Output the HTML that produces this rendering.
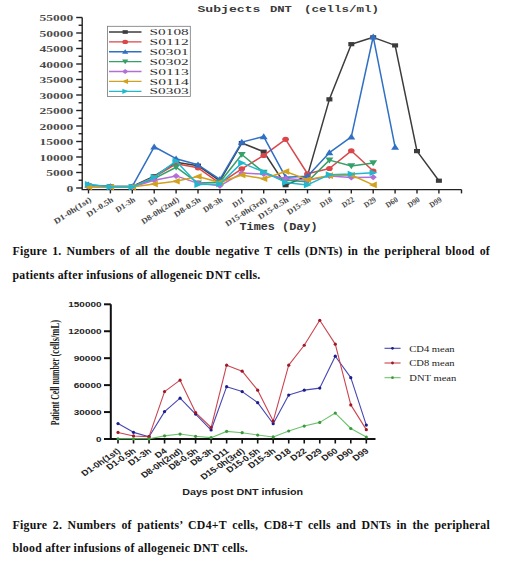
<!DOCTYPE html>
<html><head><meta charset="utf-8"><style>
html,body{margin:0;padding:0;background:#fff;}
body{width:520px;height:566px;position:relative;overflow:hidden;}
svg{position:absolute;left:0;top:0;}
.cap{position:absolute;left:12.5px;width:477.5px;font-family:"Liberation Serif",serif;font-weight:bold;font-size:11.8px;letter-spacing:0.25px;color:#111;text-align:justify;line-height:23.6px;margin:0;}
.l1{text-align-last:justify;}
</style></head><body>
<svg width="520" height="566" viewBox="0 0 520 566">
<g stroke="#222" stroke-width="1.4" fill="none">
<path d="M82.2,17.5 V189.6 H461.5"/>
<path d="M76.2,188.00 H82.2"/>
<path d="M76.2,172.50 H82.2"/>
<path d="M76.2,157.00 H82.2"/>
<path d="M76.2,141.50 H82.2"/>
<path d="M76.2,126.00 H82.2"/>
<path d="M76.2,110.50 H82.2"/>
<path d="M76.2,95.00 H82.2"/>
<path d="M76.2,79.50 H82.2"/>
<path d="M76.2,64.00 H82.2"/>
<path d="M76.2,48.50 H82.2"/>
<path d="M76.2,33.00 H82.2"/>
<path d="M76.2,17.50 H82.2"/>
<path d="M78.6,180.25 H82.2"/>
<path d="M78.6,164.75 H82.2"/>
<path d="M78.6,149.25 H82.2"/>
<path d="M78.6,133.75 H82.2"/>
<path d="M78.6,118.25 H82.2"/>
<path d="M78.6,102.75 H82.2"/>
<path d="M78.6,87.25 H82.2"/>
<path d="M78.6,71.75 H82.2"/>
<path d="M78.6,56.25 H82.2"/>
<path d="M78.6,40.75 H82.2"/>
<path d="M78.6,25.25 H82.2"/>
<path d="M88.50,189.6 V193.4"/>
<path d="M110.40,189.6 V193.4"/>
<path d="M132.30,189.6 V193.4"/>
<path d="M154.20,189.6 V193.4"/>
<path d="M176.10,189.6 V193.4"/>
<path d="M198.00,189.6 V193.4"/>
<path d="M219.90,189.6 V193.4"/>
<path d="M241.80,189.6 V193.4"/>
<path d="M263.70,189.6 V193.4"/>
<path d="M285.60,189.6 V193.4"/>
<path d="M307.50,189.6 V193.4"/>
<path d="M329.40,189.6 V193.4"/>
<path d="M351.30,189.6 V193.4"/>
<path d="M373.20,189.6 V193.4"/>
<path d="M395.10,189.6 V193.4"/>
<path d="M417.00,189.6 V193.4"/>
<path d="M438.90,189.6 V193.4"/>
<path d="M461.5,189.6 V193.4"/>
</g>
<g font-family="Liberation Serif, serif" font-weight="bold" font-size="7.6" fill="#4a4a4a" text-anchor="end">
<text x="73.2" y="191.60" textLength="6.8" lengthAdjust="spacingAndGlyphs">0</text>
<text x="73.2" y="176.10" textLength="27.0" lengthAdjust="spacingAndGlyphs">5000</text>
<text x="73.2" y="160.60" textLength="33.8" lengthAdjust="spacingAndGlyphs">10000</text>
<text x="73.2" y="145.10" textLength="33.8" lengthAdjust="spacingAndGlyphs">15000</text>
<text x="73.2" y="129.60" textLength="33.8" lengthAdjust="spacingAndGlyphs">20000</text>
<text x="73.2" y="114.10" textLength="33.8" lengthAdjust="spacingAndGlyphs">25000</text>
<text x="73.2" y="98.60" textLength="33.8" lengthAdjust="spacingAndGlyphs">30000</text>
<text x="73.2" y="83.10" textLength="33.8" lengthAdjust="spacingAndGlyphs">35000</text>
<text x="73.2" y="67.60" textLength="33.8" lengthAdjust="spacingAndGlyphs">40000</text>
<text x="73.2" y="52.10" textLength="33.8" lengthAdjust="spacingAndGlyphs">45000</text>
<text x="73.2" y="36.60" textLength="33.8" lengthAdjust="spacingAndGlyphs">50000</text>
<text x="73.2" y="21.10" textLength="33.8" lengthAdjust="spacingAndGlyphs">55000</text>
</g>
<g font-family="Liberation Mono, monospace" font-weight="bold" font-size="9.6" fill="#3a3a3a">
<text x="197.4" y="11.9" textLength="63" lengthAdjust="spacingAndGlyphs">Subjects</text>
<text x="269.9" y="11.9" textLength="22" lengthAdjust="spacingAndGlyphs">DNT</text>
<text x="304" y="11.9" textLength="75" lengthAdjust="spacingAndGlyphs">(cells/ml)</text>
</g>
<polyline fill="none" stroke="#3c3c3c" stroke-width="1.5" stroke-linejoin="round" points="88.50,185.52 110.40,186.45 132.30,186.45 154.20,176.22 176.10,162.27 198.00,165.68 219.90,180.87 241.80,143.05 263.70,151.73 285.60,185.21 307.50,175.60 329.40,99.34 351.30,44.16 373.20,37.34 395.10,45.40 417.00,151.11 438.90,180.72"/>
<rect x="85.50" y="183.42" width="6.00" height="4.20" fill="#3c3c3c"/>
<rect x="107.40" y="184.35" width="6.00" height="4.20" fill="#3c3c3c"/>
<rect x="129.30" y="184.35" width="6.00" height="4.20" fill="#3c3c3c"/>
<rect x="151.20" y="174.12" width="6.00" height="4.20" fill="#3c3c3c"/>
<rect x="173.10" y="160.17" width="6.00" height="4.20" fill="#3c3c3c"/>
<rect x="195.00" y="163.58" width="6.00" height="4.20" fill="#3c3c3c"/>
<rect x="216.90" y="178.77" width="6.00" height="4.20" fill="#3c3c3c"/>
<rect x="238.80" y="140.95" width="6.00" height="4.20" fill="#3c3c3c"/>
<rect x="260.70" y="149.63" width="6.00" height="4.20" fill="#3c3c3c"/>
<rect x="282.60" y="183.11" width="6.00" height="4.20" fill="#3c3c3c"/>
<rect x="304.50" y="173.50" width="6.00" height="4.20" fill="#3c3c3c"/>
<rect x="326.40" y="97.24" width="6.00" height="4.20" fill="#3c3c3c"/>
<rect x="348.30" y="42.06" width="6.00" height="4.20" fill="#3c3c3c"/>
<rect x="370.20" y="35.24" width="6.00" height="4.20" fill="#3c3c3c"/>
<rect x="392.10" y="43.30" width="6.00" height="4.20" fill="#3c3c3c"/>
<rect x="414.00" y="149.01" width="6.00" height="4.20" fill="#3c3c3c"/>
<rect x="435.90" y="178.62" width="6.00" height="4.20" fill="#3c3c3c"/>
<polyline fill="none" stroke="#d9474a" stroke-width="1.5" stroke-linejoin="round" points="88.50,186.14 110.40,186.76 132.30,186.76 154.20,177.15 176.10,163.82 198.00,167.85 219.90,183.35 241.80,168.78 263.70,155.45 285.60,139.33 307.50,173.74 329.40,168.47 351.30,150.80 373.20,170.95"/>
<ellipse cx="88.50" cy="186.14" rx="3.30" ry="2.55" fill="#d9474a"/>
<ellipse cx="110.40" cy="186.76" rx="3.30" ry="2.55" fill="#d9474a"/>
<ellipse cx="132.30" cy="186.76" rx="3.30" ry="2.55" fill="#d9474a"/>
<ellipse cx="154.20" cy="177.15" rx="3.30" ry="2.55" fill="#d9474a"/>
<ellipse cx="176.10" cy="163.82" rx="3.30" ry="2.55" fill="#d9474a"/>
<ellipse cx="198.00" cy="167.85" rx="3.30" ry="2.55" fill="#d9474a"/>
<ellipse cx="219.90" cy="183.35" rx="3.30" ry="2.55" fill="#d9474a"/>
<ellipse cx="241.80" cy="168.78" rx="3.30" ry="2.55" fill="#d9474a"/>
<ellipse cx="263.70" cy="155.45" rx="3.30" ry="2.55" fill="#d9474a"/>
<ellipse cx="285.60" cy="139.33" rx="3.30" ry="2.55" fill="#d9474a"/>
<ellipse cx="307.50" cy="173.74" rx="3.30" ry="2.55" fill="#d9474a"/>
<ellipse cx="329.40" cy="168.47" rx="3.30" ry="2.55" fill="#d9474a"/>
<ellipse cx="351.30" cy="150.80" rx="3.30" ry="2.55" fill="#d9474a"/>
<ellipse cx="373.20" cy="170.95" rx="3.30" ry="2.55" fill="#d9474a"/>
<polyline fill="none" stroke="#2f6fc4" stroke-width="1.5" stroke-linejoin="round" points="88.50,184.90 110.40,186.45 132.30,186.45 154.20,146.77 176.10,158.70 198.00,164.75 219.90,179.32 241.80,142.12 263.70,136.54 285.60,177.15 307.50,176.22 329.40,152.66 351.30,136.85 373.20,36.72 395.10,147.08"/>
<polygon points="84.54,187.54 88.50,181.60 92.46,187.54" fill="#2f6fc4"/>
<polygon points="106.44,189.09 110.40,183.15 114.36,189.09" fill="#2f6fc4"/>
<polygon points="128.34,189.09 132.30,183.15 136.26,189.09" fill="#2f6fc4"/>
<polygon points="150.24,149.41 154.20,143.47 158.16,149.41" fill="#2f6fc4"/>
<polygon points="172.14,161.34 176.10,155.40 180.06,161.34" fill="#2f6fc4"/>
<polygon points="194.04,167.39 198.00,161.45 201.96,167.39" fill="#2f6fc4"/>
<polygon points="215.94,181.96 219.90,176.02 223.86,181.96" fill="#2f6fc4"/>
<polygon points="237.84,144.76 241.80,138.82 245.76,144.76" fill="#2f6fc4"/>
<polygon points="259.74,139.18 263.70,133.24 267.66,139.18" fill="#2f6fc4"/>
<polygon points="281.64,179.79 285.60,173.85 289.56,179.79" fill="#2f6fc4"/>
<polygon points="303.54,178.86 307.50,172.92 311.46,178.86" fill="#2f6fc4"/>
<polygon points="325.44,155.30 329.40,149.36 333.36,155.30" fill="#2f6fc4"/>
<polygon points="347.34,139.49 351.30,133.55 355.26,139.49" fill="#2f6fc4"/>
<polygon points="369.24,39.36 373.20,33.42 377.16,39.36" fill="#2f6fc4"/>
<polygon points="391.14,149.72 395.10,143.78 399.06,149.72" fill="#2f6fc4"/>
<polyline fill="none" stroke="#35a06a" stroke-width="1.5" stroke-linejoin="round" points="88.50,186.45 110.40,187.07 132.30,187.07 154.20,178.70 176.10,167.23 198.00,183.04 219.90,182.26 241.80,154.52 263.70,172.50 285.60,180.25 307.50,181.80 329.40,160.10 351.30,165.99 373.20,162.89"/>
<polygon points="84.54,183.81 88.50,189.75 92.46,183.81" fill="#35a06a"/>
<polygon points="106.44,184.43 110.40,190.37 114.36,184.43" fill="#35a06a"/>
<polygon points="128.34,184.43 132.30,190.37 136.26,184.43" fill="#35a06a"/>
<polygon points="150.24,176.06 154.20,182.00 158.16,176.06" fill="#35a06a"/>
<polygon points="172.14,164.59 176.10,170.53 180.06,164.59" fill="#35a06a"/>
<polygon points="194.04,180.40 198.00,186.34 201.96,180.40" fill="#35a06a"/>
<polygon points="215.94,179.62 219.90,185.56 223.86,179.62" fill="#35a06a"/>
<polygon points="237.84,151.88 241.80,157.82 245.76,151.88" fill="#35a06a"/>
<polygon points="259.74,169.86 263.70,175.80 267.66,169.86" fill="#35a06a"/>
<polygon points="281.64,177.61 285.60,183.55 289.56,177.61" fill="#35a06a"/>
<polygon points="303.54,179.16 307.50,185.10 311.46,179.16" fill="#35a06a"/>
<polygon points="325.44,157.46 329.40,163.40 333.36,157.46" fill="#35a06a"/>
<polygon points="347.34,163.35 351.30,169.29 355.26,163.35" fill="#35a06a"/>
<polygon points="369.24,160.25 373.20,166.19 377.16,160.25" fill="#35a06a"/>
<polyline fill="none" stroke="#b070d8" stroke-width="1.5" stroke-linejoin="round" points="88.50,186.45 110.40,187.07 132.30,187.07 154.20,180.25 176.10,175.91 198.00,183.35 219.90,185.83 241.80,173.12 263.70,174.05 285.60,178.39 307.50,180.25 329.40,175.91 351.30,177.46 373.20,177.15"/>
<polygon points="84.90,186.45 88.50,183.45 92.10,186.45 88.50,189.45" fill="#b070d8"/>
<polygon points="106.80,187.07 110.40,184.07 114.00,187.07 110.40,190.07" fill="#b070d8"/>
<polygon points="128.70,187.07 132.30,184.07 135.90,187.07 132.30,190.07" fill="#b070d8"/>
<polygon points="150.60,180.25 154.20,177.25 157.80,180.25 154.20,183.25" fill="#b070d8"/>
<polygon points="172.50,175.91 176.10,172.91 179.70,175.91 176.10,178.91" fill="#b070d8"/>
<polygon points="194.40,183.35 198.00,180.35 201.60,183.35 198.00,186.35" fill="#b070d8"/>
<polygon points="216.30,185.83 219.90,182.83 223.50,185.83 219.90,188.83" fill="#b070d8"/>
<polygon points="238.20,173.12 241.80,170.12 245.40,173.12 241.80,176.12" fill="#b070d8"/>
<polygon points="260.10,174.05 263.70,171.05 267.30,174.05 263.70,177.05" fill="#b070d8"/>
<polygon points="282.00,178.39 285.60,175.39 289.20,178.39 285.60,181.39" fill="#b070d8"/>
<polygon points="303.90,180.25 307.50,177.25 311.10,180.25 307.50,183.25" fill="#b070d8"/>
<polygon points="325.80,175.91 329.40,172.91 333.00,175.91 329.40,178.91" fill="#b070d8"/>
<polygon points="347.70,177.46 351.30,174.46 354.90,177.46 351.30,180.46" fill="#b070d8"/>
<polygon points="369.60,177.15 373.20,174.15 376.80,177.15 373.20,180.15" fill="#b070d8"/>
<polyline fill="none" stroke="#d2a21e" stroke-width="1.5" stroke-linejoin="round" points="88.50,187.07 110.40,187.07 132.30,187.07 154.20,183.97 176.10,181.18 198.00,176.53 219.90,182.42 241.80,174.98 263.70,178.70 285.60,171.57 307.50,179.63 329.40,175.60 351.30,174.98 373.20,184.90"/>
<polygon points="92.13,183.77 84.21,187.07 92.13,190.37" fill="#d2a21e"/>
<polygon points="114.03,183.77 106.11,187.07 114.03,190.37" fill="#d2a21e"/>
<polygon points="135.93,183.77 128.01,187.07 135.93,190.37" fill="#d2a21e"/>
<polygon points="157.83,180.67 149.91,183.97 157.83,187.27" fill="#d2a21e"/>
<polygon points="179.73,177.88 171.81,181.18 179.73,184.48" fill="#d2a21e"/>
<polygon points="201.63,173.23 193.71,176.53 201.63,179.83" fill="#d2a21e"/>
<polygon points="223.53,179.12 215.61,182.42 223.53,185.72" fill="#d2a21e"/>
<polygon points="245.43,171.68 237.51,174.98 245.43,178.28" fill="#d2a21e"/>
<polygon points="267.33,175.40 259.41,178.70 267.33,182.00" fill="#d2a21e"/>
<polygon points="289.23,168.27 281.31,171.57 289.23,174.87" fill="#d2a21e"/>
<polygon points="311.13,176.33 303.21,179.63 311.13,182.93" fill="#d2a21e"/>
<polygon points="333.03,172.30 325.11,175.60 333.03,178.90" fill="#d2a21e"/>
<polygon points="354.93,171.68 347.01,174.98 354.93,178.28" fill="#d2a21e"/>
<polygon points="376.83,181.60 368.91,184.90 376.83,188.20" fill="#d2a21e"/>
<polyline fill="none" stroke="#22b8cc" stroke-width="1.5" stroke-linejoin="round" points="88.50,184.28 110.40,187.07 132.30,187.07 154.20,177.15 176.10,161.03 198.00,184.59 219.90,183.97 241.80,162.89 263.70,171.88 285.60,182.42 307.50,184.90 329.40,174.67 351.30,174.05 373.20,172.81"/>
<polygon points="84.87,180.98 92.79,184.28 84.87,187.58" fill="#22b8cc"/>
<polygon points="106.77,183.77 114.69,187.07 106.77,190.37" fill="#22b8cc"/>
<polygon points="128.67,183.77 136.59,187.07 128.67,190.37" fill="#22b8cc"/>
<polygon points="150.57,173.85 158.49,177.15 150.57,180.45" fill="#22b8cc"/>
<polygon points="172.47,157.73 180.39,161.03 172.47,164.33" fill="#22b8cc"/>
<polygon points="194.37,181.29 202.29,184.59 194.37,187.89" fill="#22b8cc"/>
<polygon points="216.27,180.67 224.19,183.97 216.27,187.27" fill="#22b8cc"/>
<polygon points="238.17,159.59 246.09,162.89 238.17,166.19" fill="#22b8cc"/>
<polygon points="260.07,168.58 267.99,171.88 260.07,175.18" fill="#22b8cc"/>
<polygon points="281.97,179.12 289.89,182.42 281.97,185.72" fill="#22b8cc"/>
<polygon points="303.87,181.60 311.79,184.90 303.87,188.20" fill="#22b8cc"/>
<polygon points="325.77,171.37 333.69,174.67 325.77,177.97" fill="#22b8cc"/>
<polygon points="347.67,170.75 355.59,174.05 347.67,177.35" fill="#22b8cc"/>
<polygon points="369.57,169.51 377.49,172.81 369.57,176.11" fill="#22b8cc"/>
<rect x="107.5" y="26.3" width="82.8" height="70.2" fill="#fff" stroke="#777" stroke-width="0.8"/>
<path d="M109,32.00 H141.5" stroke="#3c3c3c" stroke-width="1.3"/>
<rect x="122.60" y="30.18" width="5.20" height="3.64" fill="#3c3c3c"/>
<text x="149.6" y="35.10" font-family="Liberation Serif, serif" font-size="8.6" fill="#333" textLength="39.2" lengthAdjust="spacingAndGlyphs">S0108</text>
<path d="M109,41.88 H141.5" stroke="#d9474a" stroke-width="1.3"/>
<ellipse cx="125.20" cy="41.88" rx="2.86" ry="2.21" fill="#d9474a"/>
<text x="149.6" y="44.98" font-family="Liberation Serif, serif" font-size="8.6" fill="#333" textLength="39.2" lengthAdjust="spacingAndGlyphs">S0112</text>
<path d="M109,51.76 H141.5" stroke="#2f6fc4" stroke-width="1.3"/>
<polygon points="122.08,53.84 125.20,49.16 128.32,53.84" fill="#2f6fc4"/>
<text x="149.6" y="54.86" font-family="Liberation Serif, serif" font-size="8.6" fill="#333" textLength="39.2" lengthAdjust="spacingAndGlyphs">S0301</text>
<path d="M109,61.64 H141.5" stroke="#35a06a" stroke-width="1.3"/>
<polygon points="122.08,59.56 125.20,64.24 128.32,59.56" fill="#35a06a"/>
<text x="149.6" y="64.74" font-family="Liberation Serif, serif" font-size="8.6" fill="#333" textLength="39.2" lengthAdjust="spacingAndGlyphs">S0302</text>
<path d="M109,71.52 H141.5" stroke="#b070d8" stroke-width="1.3"/>
<polygon points="122.08,71.52 125.20,68.92 128.32,71.52 125.20,74.12" fill="#b070d8"/>
<text x="149.6" y="74.62" font-family="Liberation Serif, serif" font-size="8.6" fill="#333" textLength="39.2" lengthAdjust="spacingAndGlyphs">S0113</text>
<path d="M109,81.40 H141.5" stroke="#d2a21e" stroke-width="1.3"/>
<polygon points="128.06,78.80 121.82,81.40 128.06,84.00" fill="#d2a21e"/>
<text x="149.6" y="84.50" font-family="Liberation Serif, serif" font-size="8.6" fill="#333" textLength="39.2" lengthAdjust="spacingAndGlyphs">S0114</text>
<path d="M109,91.28 H141.5" stroke="#22b8cc" stroke-width="1.3"/>
<polygon points="122.34,88.68 128.58,91.28 122.34,93.88" fill="#22b8cc"/>
<text x="149.6" y="94.38" font-family="Liberation Serif, serif" font-size="8.6" fill="#333" textLength="39.2" lengthAdjust="spacingAndGlyphs">S0303</text>
<g font-family="Liberation Serif, serif" font-weight="bold" font-size="8.1" fill="#484848" text-anchor="end">
<text transform="translate(92.00,201.0) scale(1.0,1) rotate(-33)" x="0" y="0" textLength="43.0" lengthAdjust="spacingAndGlyphs">D1-0h(1st)</text>
<text transform="translate(113.90,201.0) scale(1.0,1) rotate(-33)" x="0" y="0" textLength="30.1" lengthAdjust="spacingAndGlyphs">D1-0.5h</text>
<text transform="translate(135.80,201.0) scale(1.0,1) rotate(-33)" x="0" y="0" textLength="21.5" lengthAdjust="spacingAndGlyphs">D1-3h</text>
<text transform="translate(157.70,201.0) scale(1.0,1) rotate(-33)" x="0" y="0" textLength="8.6" lengthAdjust="spacingAndGlyphs">D4</text>
<text transform="translate(179.60,201.0) scale(1.0,1) rotate(-33)" x="0" y="0" textLength="43.0" lengthAdjust="spacingAndGlyphs">D8-0h(2nd)</text>
<text transform="translate(201.50,201.0) scale(1.0,1) rotate(-33)" x="0" y="0" textLength="30.1" lengthAdjust="spacingAndGlyphs">D8-0.5h</text>
<text transform="translate(223.40,201.0) scale(1.0,1) rotate(-33)" x="0" y="0" textLength="21.5" lengthAdjust="spacingAndGlyphs">D8-3h</text>
<text transform="translate(245.30,201.0) scale(1.0,1) rotate(-33)" x="0" y="0" textLength="12.9" lengthAdjust="spacingAndGlyphs">D11</text>
<text transform="translate(267.20,201.0) scale(1.0,1) rotate(-33)" x="0" y="0" textLength="47.3" lengthAdjust="spacingAndGlyphs">D15-0h(3rd)</text>
<text transform="translate(289.10,201.0) scale(1.0,1) rotate(-33)" x="0" y="0" textLength="34.4" lengthAdjust="spacingAndGlyphs">D15-0.5h</text>
<text transform="translate(311.00,201.0) scale(1.0,1) rotate(-33)" x="0" y="0" textLength="25.8" lengthAdjust="spacingAndGlyphs">D15-3h</text>
<text transform="translate(332.90,201.0) scale(1.0,1) rotate(-33)" x="0" y="0" textLength="12.9" lengthAdjust="spacingAndGlyphs">D18</text>
<text transform="translate(354.80,201.0) scale(1.0,1) rotate(-33)" x="0" y="0" textLength="12.9" lengthAdjust="spacingAndGlyphs">D22</text>
<text transform="translate(376.70,201.0) scale(1.0,1) rotate(-33)" x="0" y="0" textLength="12.9" lengthAdjust="spacingAndGlyphs">D29</text>
<text transform="translate(398.60,201.0) scale(1.0,1) rotate(-33)" x="0" y="0" textLength="12.9" lengthAdjust="spacingAndGlyphs">D60</text>
<text transform="translate(420.50,201.0) scale(1.0,1) rotate(-33)" x="0" y="0" textLength="12.9" lengthAdjust="spacingAndGlyphs">D90</text>
<text transform="translate(442.40,201.0) scale(1.0,1) rotate(-33)" x="0" y="0" textLength="12.9" lengthAdjust="spacingAndGlyphs">D99</text>
</g>
<text x="239.5" y="229.6" font-family="Liberation Mono, monospace" font-weight="bold" font-size="10.2" fill="#333" textLength="78" lengthAdjust="spacingAndGlyphs">Times (Day)</text>
<g stroke="#111" stroke-width="2" fill="none">
<path d="M110.8,304.3 V439 H375.5"/>
<path d="M104,439.00 H110.8"/>
<path d="M104,412.06 H110.8"/>
<path d="M104,385.12 H110.8"/>
<path d="M104,358.18 H110.8"/>
<path d="M104,331.24 H110.8"/>
<path d="M104,304.30 H110.8"/>
<path d="M118.00,439 V443.5" stroke-width="1.6"/>
<path d="M133.52,439 V443.5" stroke-width="1.6"/>
<path d="M149.04,439 V443.5" stroke-width="1.6"/>
<path d="M164.56,439 V443.5" stroke-width="1.6"/>
<path d="M180.08,439 V443.5" stroke-width="1.6"/>
<path d="M195.60,439 V443.5" stroke-width="1.6"/>
<path d="M211.12,439 V443.5" stroke-width="1.6"/>
<path d="M226.64,439 V443.5" stroke-width="1.6"/>
<path d="M242.16,439 V443.5" stroke-width="1.6"/>
<path d="M257.68,439 V443.5" stroke-width="1.6"/>
<path d="M273.20,439 V443.5" stroke-width="1.6"/>
<path d="M288.72,439 V443.5" stroke-width="1.6"/>
<path d="M304.24,439 V443.5" stroke-width="1.6"/>
<path d="M319.76,439 V443.5" stroke-width="1.6"/>
<path d="M335.28,439 V443.5" stroke-width="1.6"/>
<path d="M350.80,439 V443.5" stroke-width="1.6"/>
<path d="M366.32,439 V443.5" stroke-width="1.6"/>
</g>
<polyline fill="none" stroke="#4646b4" stroke-width="1.1" stroke-linejoin="round" points="118.00,423.55 133.52,432.35 149.04,436.67 164.56,411.61 180.08,398.14 195.60,414.04 211.12,430.02 226.64,386.65 242.16,391.59 257.68,402.63 273.20,423.73 288.72,395.09 304.24,390.15 319.76,388.08 335.28,356.20 350.80,377.67 366.32,425.08"/>
<polyline fill="none" stroke="#cc4450" stroke-width="1.1" stroke-linejoin="round" points="118.00,432.44 133.52,435.95 149.04,436.67 164.56,391.59 180.08,380.18 195.60,412.60 211.12,427.51 226.64,365.18 242.16,371.20 257.68,390.15 273.20,421.04 288.72,365.18 304.24,345.25 319.76,320.28 335.28,344.17 350.80,404.88 366.32,429.66"/>
<polyline fill="none" stroke="#6cc46c" stroke-width="1.1" stroke-linejoin="round" points="118.00,438.73 133.52,438.82 149.04,438.82 164.56,435.86 180.08,434.06 195.60,436.31 211.12,437.65 226.64,431.37 242.16,432.71 257.68,435.05 273.20,436.93 288.72,431.01 304.24,426.07 319.76,422.39 335.28,413.05 350.80,428.49 366.32,437.02"/>
<circle cx="118.00" cy="423.55" r="1.6" fill="#1c1c8c"/>
<circle cx="133.52" cy="432.35" r="1.6" fill="#1c1c8c"/>
<circle cx="149.04" cy="436.67" r="1.6" fill="#1c1c8c"/>
<circle cx="164.56" cy="411.61" r="1.6" fill="#1c1c8c"/>
<circle cx="180.08" cy="398.14" r="1.6" fill="#1c1c8c"/>
<circle cx="195.60" cy="414.04" r="1.6" fill="#1c1c8c"/>
<circle cx="211.12" cy="430.02" r="1.6" fill="#1c1c8c"/>
<circle cx="226.64" cy="386.65" r="1.6" fill="#1c1c8c"/>
<circle cx="242.16" cy="391.59" r="1.6" fill="#1c1c8c"/>
<circle cx="257.68" cy="402.63" r="1.6" fill="#1c1c8c"/>
<circle cx="273.20" cy="423.73" r="1.6" fill="#1c1c8c"/>
<circle cx="288.72" cy="395.09" r="1.6" fill="#1c1c8c"/>
<circle cx="304.24" cy="390.15" r="1.6" fill="#1c1c8c"/>
<circle cx="319.76" cy="388.08" r="1.6" fill="#1c1c8c"/>
<circle cx="335.28" cy="356.20" r="1.6" fill="#1c1c8c"/>
<circle cx="350.80" cy="377.67" r="1.6" fill="#1c1c8c"/>
<circle cx="366.32" cy="425.08" r="1.6" fill="#1c1c8c"/>
<circle cx="118.00" cy="432.44" r="1.6" fill="#a01828"/>
<circle cx="133.52" cy="435.95" r="1.6" fill="#a01828"/>
<circle cx="149.04" cy="436.67" r="1.6" fill="#a01828"/>
<circle cx="164.56" cy="391.59" r="1.6" fill="#a01828"/>
<circle cx="180.08" cy="380.18" r="1.6" fill="#a01828"/>
<circle cx="195.60" cy="412.60" r="1.6" fill="#a01828"/>
<circle cx="211.12" cy="427.51" r="1.6" fill="#a01828"/>
<circle cx="226.64" cy="365.18" r="1.6" fill="#a01828"/>
<circle cx="242.16" cy="371.20" r="1.6" fill="#a01828"/>
<circle cx="257.68" cy="390.15" r="1.6" fill="#a01828"/>
<circle cx="273.20" cy="421.04" r="1.6" fill="#a01828"/>
<circle cx="288.72" cy="365.18" r="1.6" fill="#a01828"/>
<circle cx="304.24" cy="345.25" r="1.6" fill="#a01828"/>
<circle cx="319.76" cy="320.28" r="1.6" fill="#a01828"/>
<circle cx="335.28" cy="344.17" r="1.6" fill="#a01828"/>
<circle cx="350.80" cy="404.88" r="1.6" fill="#a01828"/>
<circle cx="366.32" cy="429.66" r="1.6" fill="#a01828"/>
<circle cx="118.00" cy="438.73" r="1.6" fill="#3a9a3a"/>
<circle cx="133.52" cy="438.82" r="1.6" fill="#3a9a3a"/>
<circle cx="149.04" cy="438.82" r="1.6" fill="#3a9a3a"/>
<circle cx="164.56" cy="435.86" r="1.6" fill="#3a9a3a"/>
<circle cx="180.08" cy="434.06" r="1.6" fill="#3a9a3a"/>
<circle cx="195.60" cy="436.31" r="1.6" fill="#3a9a3a"/>
<circle cx="211.12" cy="437.65" r="1.6" fill="#3a9a3a"/>
<circle cx="226.64" cy="431.37" r="1.6" fill="#3a9a3a"/>
<circle cx="242.16" cy="432.71" r="1.6" fill="#3a9a3a"/>
<circle cx="257.68" cy="435.05" r="1.6" fill="#3a9a3a"/>
<circle cx="273.20" cy="436.93" r="1.6" fill="#3a9a3a"/>
<circle cx="288.72" cy="431.01" r="1.6" fill="#3a9a3a"/>
<circle cx="304.24" cy="426.07" r="1.6" fill="#3a9a3a"/>
<circle cx="319.76" cy="422.39" r="1.6" fill="#3a9a3a"/>
<circle cx="335.28" cy="413.05" r="1.6" fill="#3a9a3a"/>
<circle cx="350.80" cy="428.49" r="1.6" fill="#3a9a3a"/>
<circle cx="366.32" cy="437.02" r="1.6" fill="#3a9a3a"/>
<g font-family="Liberation Sans, sans-serif" font-weight="bold" font-size="7" fill="#222" text-anchor="end">
<text x="101.5" y="441.50" textLength="5.5" lengthAdjust="spacingAndGlyphs">0</text>
<text x="101.5" y="414.56" textLength="27.7" lengthAdjust="spacingAndGlyphs">30000</text>
<text x="101.5" y="387.62" textLength="27.7" lengthAdjust="spacingAndGlyphs">60000</text>
<text x="101.5" y="360.68" textLength="27.7" lengthAdjust="spacingAndGlyphs">90000</text>
<text x="101.5" y="333.74" textLength="33.2" lengthAdjust="spacingAndGlyphs">120000</text>
<text x="101.5" y="306.80" textLength="33.2" lengthAdjust="spacingAndGlyphs">150000</text>
</g>
<g font-family="Liberation Sans, sans-serif" font-weight="bold" font-size="8" fill="#222" text-anchor="end">
<text transform="translate(121.00,452.0) scale(1.2,1) rotate(-39)" x="0" y="0">D1-0h(1st)</text>
<text transform="translate(136.52,452.0) scale(1.2,1) rotate(-39)" x="0" y="0">D1-0.5h</text>
<text transform="translate(152.04,452.0) scale(1.2,1) rotate(-39)" x="0" y="0">D1-3h</text>
<text transform="translate(167.56,452.0) scale(1.2,1) rotate(-39)" x="0" y="0">D4</text>
<text transform="translate(183.08,452.0) scale(1.2,1) rotate(-39)" x="0" y="0">D8-0h(2nd)</text>
<text transform="translate(198.60,452.0) scale(1.2,1) rotate(-39)" x="0" y="0">D8-0.5h</text>
<text transform="translate(214.12,452.0) scale(1.2,1) rotate(-39)" x="0" y="0">D8-3h</text>
<text transform="translate(229.64,452.0) scale(1.2,1) rotate(-39)" x="0" y="0">D11</text>
<text transform="translate(245.16,452.0) scale(1.2,1) rotate(-39)" x="0" y="0">D15-0h(3rd)</text>
<text transform="translate(260.68,452.0) scale(1.2,1) rotate(-39)" x="0" y="0">D15-0.5h</text>
<text transform="translate(276.20,452.0) scale(1.2,1) rotate(-39)" x="0" y="0">D15-3h</text>
<text transform="translate(291.72,452.0) scale(1.2,1) rotate(-39)" x="0" y="0">D18</text>
<text transform="translate(307.24,452.0) scale(1.2,1) rotate(-39)" x="0" y="0">D22</text>
<text transform="translate(322.76,452.0) scale(1.2,1) rotate(-39)" x="0" y="0">D29</text>
<text transform="translate(338.28,452.0) scale(1.2,1) rotate(-39)" x="0" y="0">D60</text>
<text transform="translate(353.80,452.0) scale(1.2,1) rotate(-39)" x="0" y="0">D90</text>
<text transform="translate(369.32,452.0) scale(1.2,1) rotate(-39)" x="0" y="0">D99</text>
</g>
<text x="182.2" y="495.2" font-family="Liberation Sans, sans-serif" font-weight="bold" font-size="8.4" fill="#222" textLength="121" lengthAdjust="spacingAndGlyphs">Days post DNT infusion</text>
<g font-family="Liberation Serif, serif" font-weight="bold" font-size="7.8" fill="#222">
<text transform="translate(59.4,425.3) scale(1.5,1) rotate(-90)" textLength="67" lengthAdjust="spacing">Patient Cell number</text>
<text transform="translate(59.4,356.5) scale(1.5,1) rotate(-90)" textLength="36.5" lengthAdjust="spacingAndGlyphs">(cells/mL)</text>
</g>
<path d="M384.5,348.30 H400.6" stroke="#4646b4" stroke-width="1.1"/>
<circle cx="392.5" cy="348.30" r="1.4" fill="#1c1c8c"/>
<text x="409.3" y="351.50" font-family="Liberation Serif, serif" font-size="9.2" fill="#222" textLength="45.3" lengthAdjust="spacingAndGlyphs">CD4 mean</text>
<path d="M384.5,363.00 H400.6" stroke="#cc4450" stroke-width="1.1"/>
<circle cx="392.5" cy="363.00" r="1.4" fill="#a01828"/>
<text x="409.3" y="366.20" font-family="Liberation Serif, serif" font-size="9.2" fill="#222" textLength="45.3" lengthAdjust="spacingAndGlyphs">CD8 mean</text>
<path d="M384.5,377.70 H400.6" stroke="#6cc46c" stroke-width="1.1"/>
<circle cx="392.5" cy="377.70" r="1.4" fill="#3a9a3a"/>
<text x="409.3" y="380.90" font-family="Liberation Serif, serif" font-size="9.2" fill="#222" textLength="47" lengthAdjust="spacingAndGlyphs">DNT mean</text>
</svg>
<p class="cap l1" style="top:240px">Figure 1. Numbers of all the double negative T cells (DNTs) in the peripheral blood of</p>
<p class="cap" style="top:264px">patients after infusions of allogeneic DNT cells.</p>
<p class="cap l1" style="top:514px">Figure 2. Numbers of patients’ CD4+T cells, CD8+T cells and DNTs in the peripheral</p>
<p class="cap" style="top:537px">blood after infusions of allogeneic DNT cells.</p>
</body></html>
